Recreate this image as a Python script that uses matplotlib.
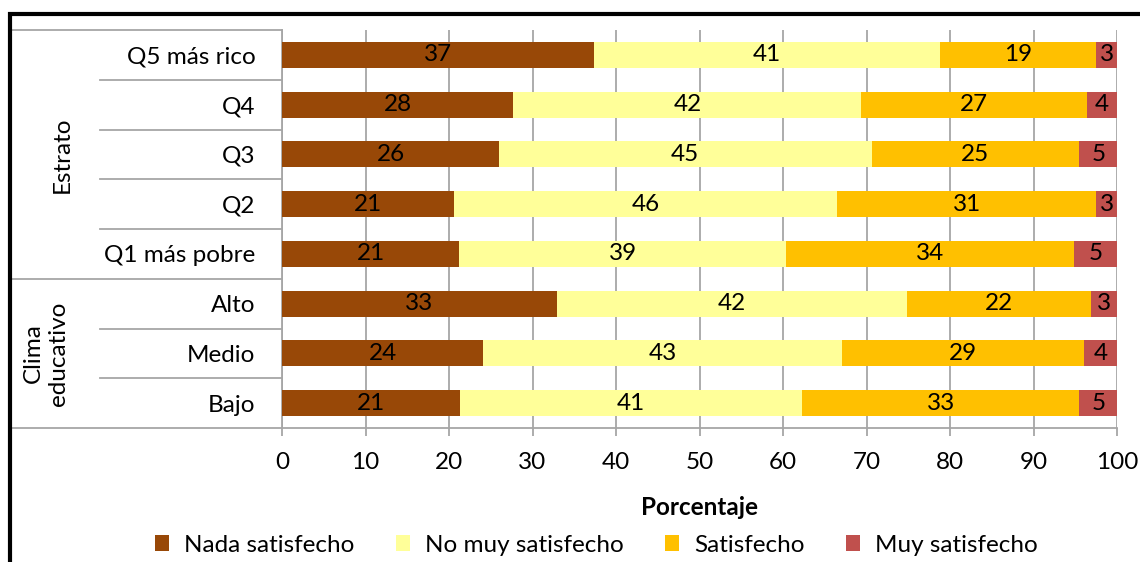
import matplotlib
matplotlib.use("Agg")
import matplotlib.pyplot as plt
from matplotlib.patches import Rectangle
from matplotlib.lines import Line2D
import matplotlib.transforms as mtransforms

plt.rcParams['font.family'] = ['Lato', 'DejaVu Sans']

categorias = ["Q5 más rico", "Q4", "Q3", "Q2", "Q1 más pobre", "Alto", "Medio", "Bajo"]
grupos = ["Estrato", "Clima\neducativo"]
grupo_filas = [(0, 4), (5, 7)]

nada = [37.4, 27.7, 26.0, 20.6, 21.2, 32.9, 24.1, 21.3]
no_muy = [41.4, 41.7, 44.6, 45.9, 39.2, 42.0, 43.0, 41.0]
satisf = [18.7, 27.0, 24.9, 31.0, 34.4, 22.0, 29.0, 33.2]
muy = [2.6, 3.6, 4.6, 2.6, 5.2, 3.1, 3.9, 4.6]

series = [nada, no_muy, satisf, muy]
nombres = ["Nada satisfecho", "No muy satisfecho", "Satisfecho", "Muy satisfecho"]
colores = ["#984807", "#FFFF99", "#FFC000", "#C0504D"]

W, H = 1140, 562
fig = plt.figure(figsize=(W / 100, H / 100), dpi=100)
ax = fig.add_axes([282 / W, 1 - 428 / H, (1117 - 282) / W, (428 - 30) / H])

gris = "#A6A6A6"
fs = 17.5

y = list(range(len(categorias)))
izq = [0] * len(categorias)
for vals, nom, col in zip(series, nombres, colores):
    ax.barh(y, vals, left=izq, height=0.52, color=col, label=nom, zorder=3)
    for i, v in enumerate(vals):
        ax.text(izq[i] + v / 2, i, f"{int(v + 0.5)}", ha="center", va="center",
                fontsize=fs, color="black", zorder=4)
    izq = [a + b for a, b in zip(izq, vals)]

ax.set_xlim(0, 100)
ax.set_ylim(len(categorias) - 0.5, -0.5)
ax.set_xticks(range(0, 101, 10))
ax.xaxis.grid(True, color=gris, linewidth=1.3, zorder=0)
ax.tick_params(axis="x", length=6, width=1.3, color=gris, labelsize=fs, pad=11)
ax.set_yticks(y)
ax.set_yticklabels(categorias, fontsize=fs)
ax.tick_params(axis="y", length=0, pad=19)
for s in ["top", "right"]:
    ax.spines[s].set_visible(False)
ax.spines["left"].set_color(gris)
ax.spines["bottom"].set_color(gris)
ax.spines["left"].set_linewidth(1.3)
ax.spines["bottom"].set_linewidth(1.3)
ax.set_xlabel("Porcentaje", fontsize=fs, fontweight="bold", labelpad=17)

# lineas separadoras de la tabla de categorias
trans = mtransforms.blended_transform_factory(ax.transAxes, ax.transData)
x_grupo = (12 - 282) / (1117 - 282)
x_cat = (100 - 282) / (1117 - 282)
for k in range(len(categorias) + 1):
    yy = k - 0.5
    borde = any(yy == a - 0.5 or yy == b + 0.5 for a, b in grupo_filas)
    x0 = x_grupo if borde else x_cat
    ax.add_line(Line2D([x0, 0], [yy, yy], transform=trans, color=gris,
                       linewidth=1.3, clip_on=False))

for nom, (a, b) in zip(grupos, grupo_filas):
    xg = (62 - 282) / (1117 - 282) if "\n" not in nom else (46 - 282) / (1117 - 282)
    ax.text(xg, (a + b) / 2, nom, transform=trans, rotation=90, ha="center",
            va="center", fontsize=fs, linespacing=1.2)

fig.legend(loc="center", bbox_to_anchor=(0.523, 1 - 545 / H), ncol=4,
           frameon=False, fontsize=fs, handlelength=0.6, handleheight=0.6,
           columnspacing=1.7, handletextpad=0.6)

# marco de la figura
fig.add_artist(Rectangle((9.5 / W, -0.05), 1.2, 1 - 14 / H + 0.05,
                         transform=fig.transFigure, fill=False,
                         edgecolor="black", linewidth=3))

fig.savefig("out.png", dpi=100)
